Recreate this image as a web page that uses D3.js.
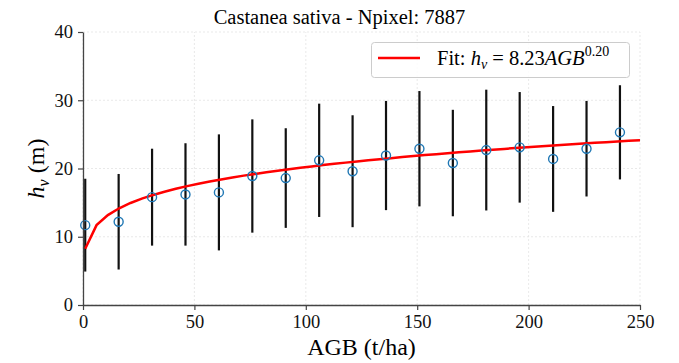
<!DOCTYPE html>
<html>
<head>
<meta charset="utf-8">
<script src="https://cdn.jsdelivr.net/npm/d3@7"></script>
</head>
<body style="margin:0; background:#fff">
<svg id="chart" width="679" height="363"></svg>
<script>
// binned AGB (t/ha) centres, mean canopy height and std (m)
const agb = [1, 16, 31, 46, 61, 76, 91, 106, 121, 136, 151, 166, 181, 196, 211, 226, 241];
const hvMean = [11.7, 12.2, 15.8, 16.2, 16.5, 18.9, 18.6, 21.2, 19.6, 21.9, 22.9, 20.8, 22.7, 23.1, 21.4, 22.9, 25.3];
const hvStd = [6.8, 7.0, 7.1, 7.5, 8.5, 8.3, 7.3, 8.3, 8.2, 8.0, 8.45, 7.8, 8.85, 8.1, 7.75, 7.0, 6.9];

// fit: hv = a * AGB^b (legend rounds b to 0.20)
const fitCoef = [8.23, 0.195];
const fitRange = [1, 250];
const fitSamples = 50;

const xTicks = [0, 50, 100, 150, 200, 250];
const yTicks = [0, 10, 20, 30, 40];

const FONT = 'Liberation Serif';
const svg = d3.select('#chart');
const margin = {left: 83, right: 39, top: 32, bottom: 58};
const W = 679, H = 363;

let x = d3.scaleLinear().domain([0, 250]).range([margin.left, W - margin.right]);
let y = d3.scaleLinear().domain([0, 40]).range([H - margin.bottom, margin.top]);

// grid
let grid = svg.append('g')
  .style('stroke', '#e3e3e3')
  .style('stroke-width', 0.8)
  .style('stroke-dasharray', '2,2');
grid.selectAll('line.gx').data(xTicks).enter().append('line')
  .attr('x1', d => x(d)).attr('x2', d => x(d))
  .attr('y1', y(0)).attr('y2', y(40));
grid.selectAll('line.gy').data(yTicks).enter().append('line')
  .attr('x1', x(0)).attr('x2', x(250))
  .attr('y1', d => y(d)).attr('y2', d => y(d));

// error bars
svg.append('g').selectAll('line').data(agb).enter().append('line')
  .attr('x1', d => x(d)).attr('x2', d => x(d))
  .attr('y1', (d, i) => y(hvMean[i] - hvStd[i]))
  .attr('y2', (d, i) => y(hvMean[i] + hvStd[i]))
  .style('stroke', '#111')
  .style('stroke-width', 2.2);

// fit curve
let fitX = d3.range(fitSamples).map(i => fitRange[0] + (fitRange[1] - fitRange[0]) * i / (fitSamples - 1));
let line = d3.line().x(d => x(d)).y(d => y(fitCoef[0] * Math.pow(d, fitCoef[1])));
svg.append('path').datum(fitX)
  .attr('d', line)
  .style('fill', 'none')
  .style('stroke', '#ff0000')
  .style('stroke-width', 2.5);

// mean points
svg.append('g').selectAll('circle').data(agb).enter().append('circle')
  .attr('cx', d => x(d))
  .attr('cy', (d, i) => y(hvMean[i]))
  .attr('r', 4.5)
  .style('fill', 'none')
  .style('stroke', '#1f77b4')
  .style('stroke-width', 1.4);

// axes
function styleAxis(g) {
  g.attr('font-size', 18.5);
  g.select('.domain').style('stroke', '#444').style('stroke-width', 1.3);
  g.selectAll('.tick line').style('stroke', '#444').style('stroke-width', 1.2);
  g.selectAll('.tick text').style('fill', '#111');
}
let xAxis = svg.append('g')
  .attr('transform', `translate(0,${y(0)})`)
  .call(d3.axisBottom(x).tickValues(xTicks).tickSize(5).tickSizeOuter(0).tickPadding(2))
  .call(styleAxis);
let yAxis = svg.append('g')
  .attr('transform', `translate(${x(0)},0)`)
  .call(d3.axisLeft(y).tickValues(yTicks).tickSize(5).tickSizeOuter(0).tickPadding(5))
  .call(styleAxis);
xAxis.selectAll('text').attr('dy', '0.85em');

// title (figure-centred) and labels
svg.append('text')
  .attr('x', W / 2).attr('y', 24)
  .attr('text-anchor', 'middle')
  .attr('font-size', 20.5)
  .text('Castanea sativa - Npixel: 7887');

svg.append('text')
  .attr('x', (x(0) + x(250)) / 2).attr('y', 355)
  .attr('text-anchor', 'middle')
  .attr('font-size', 24)
  .text('AGB (t/ha)');

let yl = svg.append('text')
  .attr('transform', `translate(44,${(y(0) + y(40)) / 2}) rotate(-90)`)
  .attr('text-anchor', 'middle')
  .attr('font-size', 24);
yl.append('tspan').attr('font-style', 'italic').text('h');
yl.append('tspan').attr('font-style', 'italic').attr('font-size', 16).attr('dy', 5).text('v');
yl.append('tspan').attr('dy', -5).text(' (m)');

// legend
let leg = svg.append('g');
leg.append('rect')
  .attr('x', 371.5).attr('y', 42.5).attr('width', 258).attr('height', 35)
  .attr('rx', 3)
  .style('fill', 'rgba(255,255,255,0.85)')
  .style('stroke', '#cccccc');
leg.append('line')
  .attr('x1', 378).attr('x2', 420).attr('y1', 58).attr('y2', 58)
  .style('stroke', '#ff0000').style('stroke-width', 2.5);
let lt = leg.append('text').attr('x', 437).attr('y', 64.5).attr('font-size', 20.5);
lt.append('tspan').text('Fit: ');
lt.append('tspan').attr('font-style', 'italic').text('h');
lt.append('tspan').attr('font-style', 'italic').attr('font-size', 14).attr('dy', 4).text('v');
lt.append('tspan').attr('dy', -4).text(' = 8.23');
lt.append('tspan').attr('font-style', 'italic').text('AGB');
lt.append('tspan').attr('font-size', 14).attr('dy', -9).text('0.20');

// serif everywhere, set on each text so nothing upstream overrides it
svg.selectAll('text').attr('font-family', FONT);
</script>
</body>
</html>
